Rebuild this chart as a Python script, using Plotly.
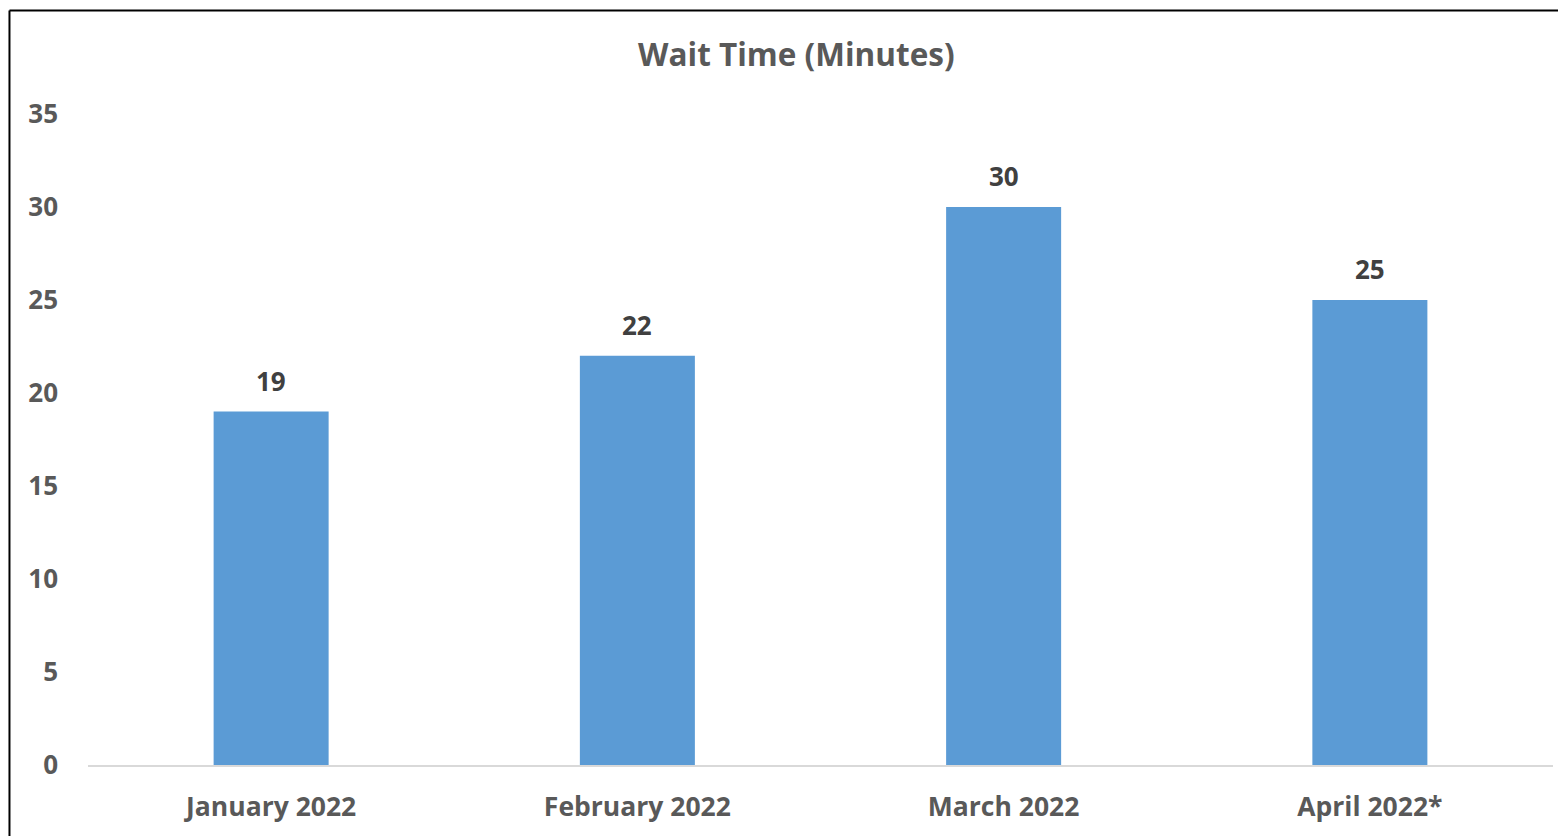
import plotly.graph_objects as go

months = ["January 2022", "February 2022", "March 2022", "April 2022*"]
wait_minutes = [19, 22, 30, 25]
y_ticks = [0, 5, 10, 15, 20, 25, 30, 35]

bar_color = '#5B9BD5'
text_gray = '#595959'
label_gray = '#404040'
font_family = '"Open Sans", sans-serif'

fig = go.Figure()
fig.add_trace(go.Bar(x=months, y=wait_minutes, marker={'color': bar_color, 'line': {'width': 0}},
                     hoverinfo='skip'))

# value labels above bars
for m, v in zip(months, wait_minutes):
    fig.add_annotation(x=m, y=v, text="<b>{}</b>".format(v), showarrow=False,
                       yanchor='bottom', yshift=11,
                       font={'family': font_family, 'size': 26, 'color': label_gray})

# outer frame (left and top edges visible in the crop)
fig.add_shape(type='line', xref='paper', yref='paper', x0=-0.0536, x1=-0.0536, y0=-0.2, y1=1.159,
              line={'color': 'black', 'width': 2})
fig.add_shape(type='line', xref='paper', yref='paper', x0=-0.0536, x1=1.2, y0=1.159, y1=1.159,
              line={'color': 'black', 'width': 2})

# page body adds an 8px margin, so the figure is 8px smaller than the window
fig.update_layout(
    width=1558, height=828,
    margin={'l': 80, 'r': 13, 't': 106, 'b': 71},
    paper_bgcolor='white', plot_bgcolor='white',
    bargap=0.686, showlegend=False,
    title={'text': '<b>Wait Time (Minutes)</b>', 'x': 0.506, 'xanchor': 'center',
           'y': 1 - 47 / 828, 'yanchor': 'middle',
           'font': {'family': font_family, 'size': 31.5, 'color': text_gray}},
)
fig.update_xaxes(showline=True, linecolor='#D9D9D9', linewidth=2, showgrid=False,
                 ticks='', ticklabelstandoff=17,
                 tickvals=months, ticktext=["<b>{}</b>".format(m) for m in months],
                 tickfont={'family': font_family, 'size': 26.5, 'color': text_gray})
fig.update_yaxes(range=[0, 35], tickvals=y_ticks, ticktext=["<b>{}</b>".format(t) for t in y_ticks],
                 showgrid=False, zeroline=False, showline=False, ticks='', ticklabelstandoff=29,
                 tickfont={'family': font_family, 'size': 26, 'color': text_gray})

fig.write_html("out.html")
